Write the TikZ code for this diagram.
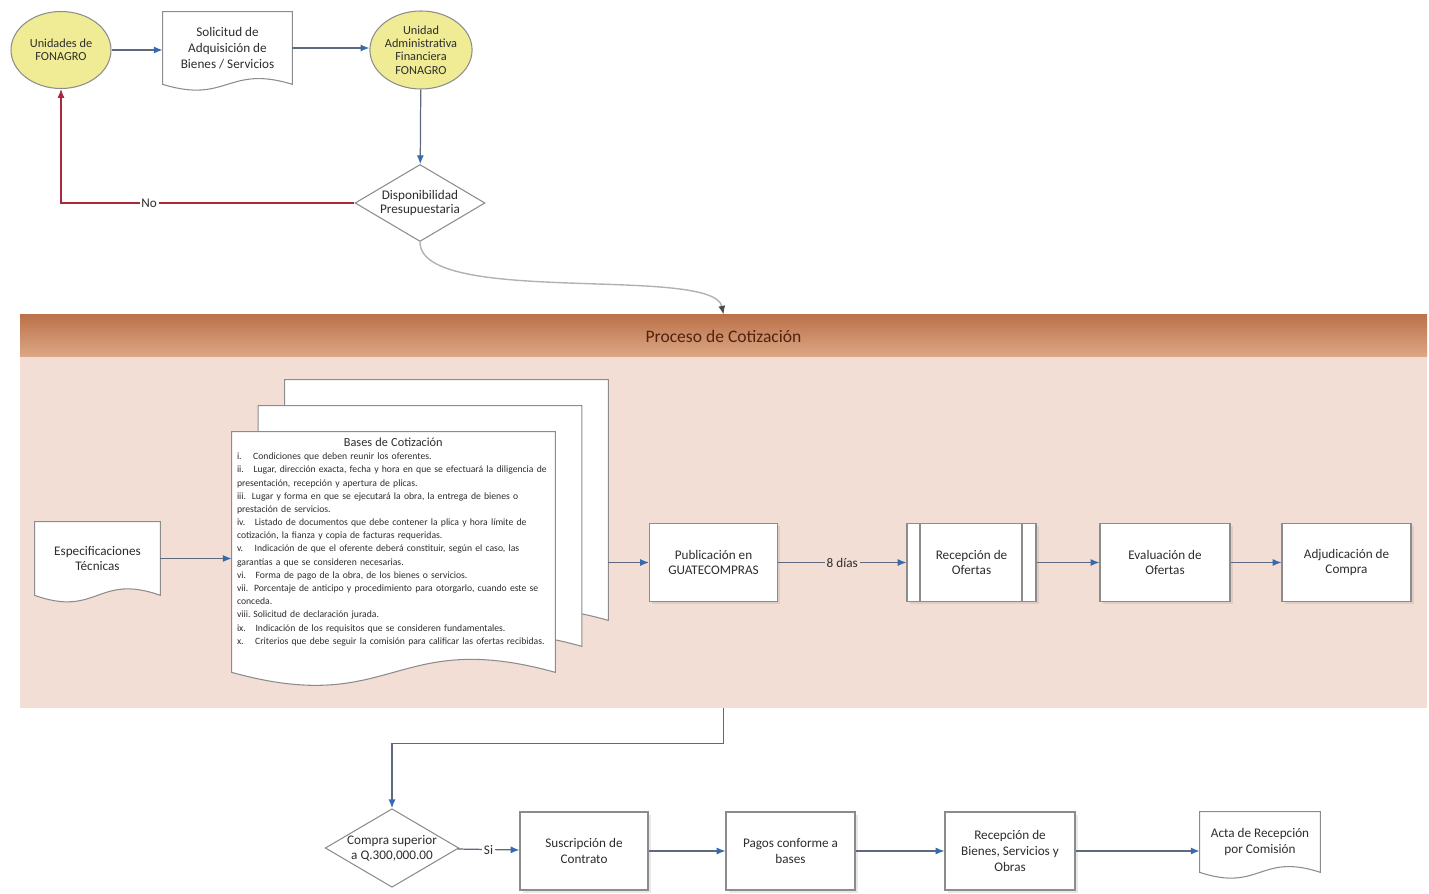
\documentclass[tikz,border=0pt]{standalone}
\usepackage{fontspec}
\setmainfont{Carlito}
\usetikzlibrary{shapes.geometric,arrows.meta,positioning,calc,shadows}

\definecolor{linea}{RGB}{95,105,125}
\definecolor{punta}{RGB}{55,105,175}
\definecolor{rojo}{RGB}{170,40,60}
\definecolor{amarillo}{RGB}{240,236,150}
\definecolor{borde}{RGB}{140,140,140}
\definecolor{rosa}{RGB}{243,222,213}
\definecolor{cafe1}{RGB}{188,114,74}
\definecolor{cafe2}{RGB}{220,168,134}
\definecolor{cafeosc}{RGB}{80,35,15}
\definecolor{texto}{RGB}{45,45,45}

\pgfdeclarelayer{band}
\pgfdeclarelayer{paper}
\pgfsetlayers{band,paper,main}

\tikzset{
  flecha/.style={draw=linea, line width=0.7pt, -{Latex[length=5pt,width=4pt,color=punta]}},
  flecharoja/.style={draw=rojo, line width=0.7pt, -{Latex[length=5pt,width=4pt]}},
  curva/.style={draw=gray!60, line width=0.8pt, -{Latex[length=5pt,width=4pt,color=black!70]}},
  unidad/.style={ellipse, draw=borde, fill=amarillo, line width=0.6pt, minimum width=2cm,
    minimum height=1.54cm, inner sep=0pt, align=center, font=\fontsize{7}{7.6}\selectfont, text=texto},
  caja/.style={rectangle, draw=borde, fill=white, line width=0.6pt, minimum width=2.56cm,
    minimum height=1.56cm, align=center, font=\fontsize{7.5}{9}\selectfont, text=texto,
    drop shadow={opacity=0.18, shadow xshift=0.5mm, shadow yshift=-0.5mm}},
  predef/.style={caja, path picture={
    \draw[borde] ([xshift=0.26cm]path picture bounding box.north west) -- ([xshift=0.26cm]path picture bounding box.south west);
    \draw[borde] ([xshift=-0.28cm]path picture bounding box.north east) -- ([xshift=-0.28cm]path picture bounding box.south east);}},
  decision/.style={diamond, draw=borde, fill=white, line width=0.6pt, aspect=1.7, inner sep=0pt,
    minimum width=2.6cm, minimum height=1.54cm, align=center, font=\fontsize{7.5}{8.5}\selectfont, text=texto},
  hoja/.style={rectangle, minimum width=2.56cm, minimum height=1.44cm, inner sep=0pt, align=center,
    font=\fontsize{7.5}{9}\selectfont, text=texto},
  papel/.style={draw=borde, fill=white, line width=0.6pt},
  etiqueta/.style={fill=white, inner sep=1pt, font=\fontsize{7.5}{9}\selectfont, text=texto}
}

\begin{document}
\begin{tikzpicture}
  \useasboundingbox (0,0) rectangle (28.58,17.86);

  % solicitud y disponibilidad
  \node[unidad] (unid) at (1.22,16.86) {Unidades de\\FONAGRO};
  \node[hoja, minimum width=2.58cm] (sol) at (4.55,16.90) {Solicitud de\\Adquisición de\\Bienes / Servicios};
  \node[unidad, minimum width=1.96cm, minimum height=1.56cm] (uaf) at (8.42,16.86) {Unidad\\Administrativa\\Financiera\\FONAGRO};
  \node[decision] (disp) at (8.40,13.80) {Disponibilidad\\Presupuestaria};

  % proceso de cotizacion
  \begin{pgfonlayer}{band}
    \node[fill=rosa, minimum width=28.14cm, minimum height=7.86cm, inner sep=0pt] (cotiz) at (14.47,7.63) {};
    \node[top color=cafe1, bottom color=cafe2, minimum width=28.14cm, minimum height=0.84cm, inner sep=0pt,
      anchor=north, font=\fontsize{10}{12}\selectfont, text=cafeosc] (cab) at (cotiz.north) {Proceso de Cotización};
  \end{pgfonlayer}

  \node[hoja, minimum width=2.5cm, minimum height=1.46cm] (esp) at (1.95,6.69) {Especificaciones\\Técnicas};
  \node[minimum width=6.46cm, minimum height=4.8cm, inner sep=0pt] (bases) at (7.87,6.82) {};
  \node[minimum width=6.46cm, minimum height=4.8cm, inner sep=0pt] (bases2) at ($(bases)+(0.53,0.52)$) {};
  \node[minimum width=6.46cm, minimum height=4.8cm, inner sep=0pt] (bases3) at ($(bases)+(1.06,1.04)$) {};
  \node[anchor=north west, text width=6.25cm, align=left, inner sep=0pt, text=texto,
    font=\fontsize{5.5}{7.5}\selectfont] (lista) at ([shift={(0.1,-0.12)}]bases.north west) {%
    \hyphenpenalty=10000 \exhyphenpenalty=10000
    \makebox[6.25cm]{\fontsize{7}{8}\selectfont Bases de Cotización}\\
    i.\hspace{1.2em}Condiciones que deben reunir los oferentes.\\
    ii.\hspace{1em}Lugar, dirección exacta, fecha y hora en que se efectuará la diligencia de presentación, recepción y apertura de plicas.\\
    iii.\hspace{0.6em}Lugar y forma en que se ejecutará la obra, la entrega de bienes o prestación de servicios.\\
    iv.\hspace{1em}Listado de documentos que debe contener la plica y hora límite de cotización, la fianza y copia de facturas requeridas.\\
    v.\hspace{1.2em}Indicación de que el oferente deberá constituir, según el caso, las garantías a que se consideren necesarias.\\
    vi.\hspace{1em}Forma de pago de la obra, de los bienes o servicios.\\
    vii.\hspace{0.6em}Porcentaje de anticipo y procedimiento para otorgarlo, cuando este se conceda.\\
    viii.\hspace{0.3em}Solicitud de declaración jurada.\\
    ix.\hspace{1em}Indicación de los requisitos que se consideren fundamentales.\\
    x.\hspace{1.2em}Criterios que debe seguir la comisión para calificar las ofertas recibidas.};

  \node[caja] (pub) at (14.27,6.61) {Publicación en\\GUATECOMPRAS};
  \node[predef, minimum width=2.58cm] (rec) at (19.43,6.61) {Recepción de\\Ofertas};
  \node[caja, minimum width=2.6cm] (eva) at (23.30,6.61) {Evaluación de\\Ofertas};
  \node[caja, minimum width=2.58cm] (adj) at (26.93,6.61) {Adjudicación de\\Compra};

  % contrato y pagos
  \node[decision, minimum width=2.56cm] (comp) at (7.84,0.90) {Compra superior\\a Q.300,000.00};
  \node[caja] (sus) at (11.68,0.84) {Suscripción de\\Contrato};
  \node[caja, minimum width=2.58cm] (pag) at (15.81,0.84) {Pagos conforme a\\bases};
  \node[caja, minimum width=2.6cm] (rbs) at (20.20,0.84) {Recepción de\\Bienes, Servicios y\\Obras};
  \node[hoja, minimum width=2.4cm, minimum height=1.2cm] (acta) at (25.20,1.02) {Acta de Recepción\\por Comisión};

  % hojas con borde ondulado
  \begin{pgfonlayer}{paper}
    \foreach \n/\d in {sol/0.4, esp/0.45, bases3/0.9, bases2/0.9, bases/0.9, acta/0.4}
      \draw[papel] (\n.north west) -- (\n.north east) -- (\n.south east)
        .. controls ($(\n.south)+(0,\d)$) and ($(\n.south)+(0,-\d)$) .. (\n.south west) -- cycle;
  \end{pgfonlayer}

  % conectores
  \draw[flecha] (unid.east) -- (unid.east -| sol.west);
  \draw[flecha] (sol.east) -- (sol.east -| uaf.west);
  \draw[flecha] (uaf) -- (disp);
  \draw[flecharoja] (disp.west) -| node[etiqueta, pos=0.35] {No} (unid.south);
  \draw[curva] (disp.south) .. controls +(0,-1.3) and +(-0.2,1.0) .. (cab.north);
  \draw[flecha] (esp.east) -- (esp.east -| bases.west);
  \draw[flecha] (bases3.east |- pub.west) -- (pub.west);
  \draw[flecha] (pub) -- node[etiqueta, fill=rosa] {8 días} (rec);
  \draw[flecha] (rec) -- (eva);
  \draw[flecha] (eva) -- (adj);
  \draw[flecha] (cotiz.south) -- ++(0,-0.7) -| (comp.north);
  \draw[flecha] (comp) -- node[etiqueta] {Si} (sus);
  \draw[flecha] (sus) -- (pag);
  \draw[flecha] (pag) -- (rbs);
  \draw[flecha] (rbs.east) -- (rbs.east -| acta.west);
\end{tikzpicture}
\end{document}
